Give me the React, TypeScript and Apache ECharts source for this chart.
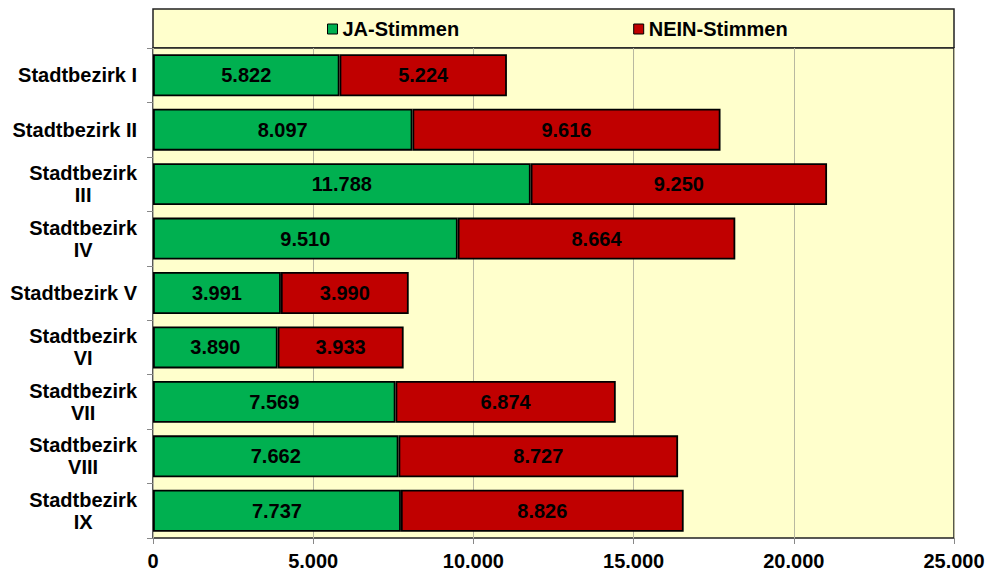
import React, { useEffect, useRef } from "react";
import * as echarts from "echarts";

const categories = [
  "Stadtbezirk I",
  "Stadtbezirk II",
  "Stadtbezirk\nIII",
  "Stadtbezirk\nIV",
  "Stadtbezirk V",
  "Stadtbezirk\nVI",
  "Stadtbezirk\nVII",
  "Stadtbezirk\nVIII",
  "Stadtbezirk\nIX",
];
const jaStimmen = [5822, 8097, 11788, 9510, 3991, 3890, 7569, 7662, 7737];
const neinStimmen = [5224, 9616, 9250, 8664, 3990, 3933, 6874, 8727, 8826];
const seriesNames = ["JA-Stimmen", "NEIN-Stimmen"];

const FONT = "'Liberation Sans', Arial, sans-serif";
const fmt = (v: number) => String(Math.round(v)).replace(/\B(?=(\d{3})+(?!\d))/g, ".");

export default function App() {
  const ref = useRef<HTMLDivElement>(null);
  useEffect(() => {
    if (!ref.current) return;
    const chart = echarts.init(ref.current, undefined, { renderer: "svg" });
    const label = {
      show: true,
      position: "inside",
      color: "#000",
      fontSize: 20,
      fontWeight: "bold",
      fontFamily: FONT,
      formatter: (p: any) => fmt(p.value),
    };
    chart.setOption({
      animation: false,
      backgroundColor: "#fff",
      textStyle: { fontFamily: FONT },
      graphic: [
        {
          type: "rect",
          z: -1,
          shape: { x: 153, y: 9, width: 801, height: 39 },
          style: { fill: "#FFFFCC", stroke: "#222", lineWidth: 1.5 },
        },
      ],
      legend: {
        left: 322,
        top: 16,
        padding: [3, 5, 3, 5],
        itemWidth: 10,
        itemHeight: 10,
        itemGap: 174,
        icon: "rect",
        itemStyle: { borderColor: "#000", borderWidth: 1 },
        textStyle: { fontSize: 20, fontWeight: "bold", color: "#000", fontFamily: FONT },
        data: seriesNames,
      },
      grid: {
        left: 153,
        top: 48,
        right: 34,
        bottom: 36,
        show: true,
        backgroundColor: "#FFFFCC",
        borderColor: "#222",
        borderWidth: 1.5,
        z: 0,
      },
      xAxis: {
        type: "value",
        min: 0,
        max: 25000,
        interval: 5000,
        axisLine: { show: false },
        axisTick: { show: true, length: 6, lineStyle: { color: "#888" } },
        splitLine: { show: true, lineStyle: { color: "#B8B8A0", width: 1 } },
        axisLabel: {
          margin: 13,
          fontSize: 20,
          fontWeight: "bold",
          color: "#000",
          fontFamily: FONT,
          formatter: (v: number) => fmt(v),
        },
      },
      yAxis: {
        type: "category",
        inverse: true,
        data: categories,
        axisLine: { show: false },
        axisTick: { show: true, length: 6, lineStyle: { color: "#888" } },
        axisLabel: {
          margin: 16,
          align: "right",
          formatter: (v: string) => v.split("\n").map((l) => `{c|${l}}`).join("\n"),
          rich: {
            c: {
              align: "center",
              fontSize: 20,
              fontWeight: "bold",
              color: "#000",
              fontFamily: FONT,
              lineHeight: 22,
            },
          },
        },
      },
      series: [
        {
          name: seriesNames[0],
          type: "bar",
          stack: "total",
          data: jaStimmen,
          barCategoryGap: "23%",
          itemStyle: { color: "#00B050", borderColor: "#000", borderWidth: 1.8 },
          label,
        },
        {
          name: seriesNames[1],
          type: "bar",
          stack: "total",
          data: neinStimmen,
          barCategoryGap: "23%",
          itemStyle: { color: "#C00000", borderColor: "#000", borderWidth: 1.8 },
          label,
        },
      ],
    });
    return () => chart.dispose();
  }, []);
  return <div ref={ref} style={{ width: 988, height: 574, position: "absolute", left: 0, top: 0 }} />;
}
